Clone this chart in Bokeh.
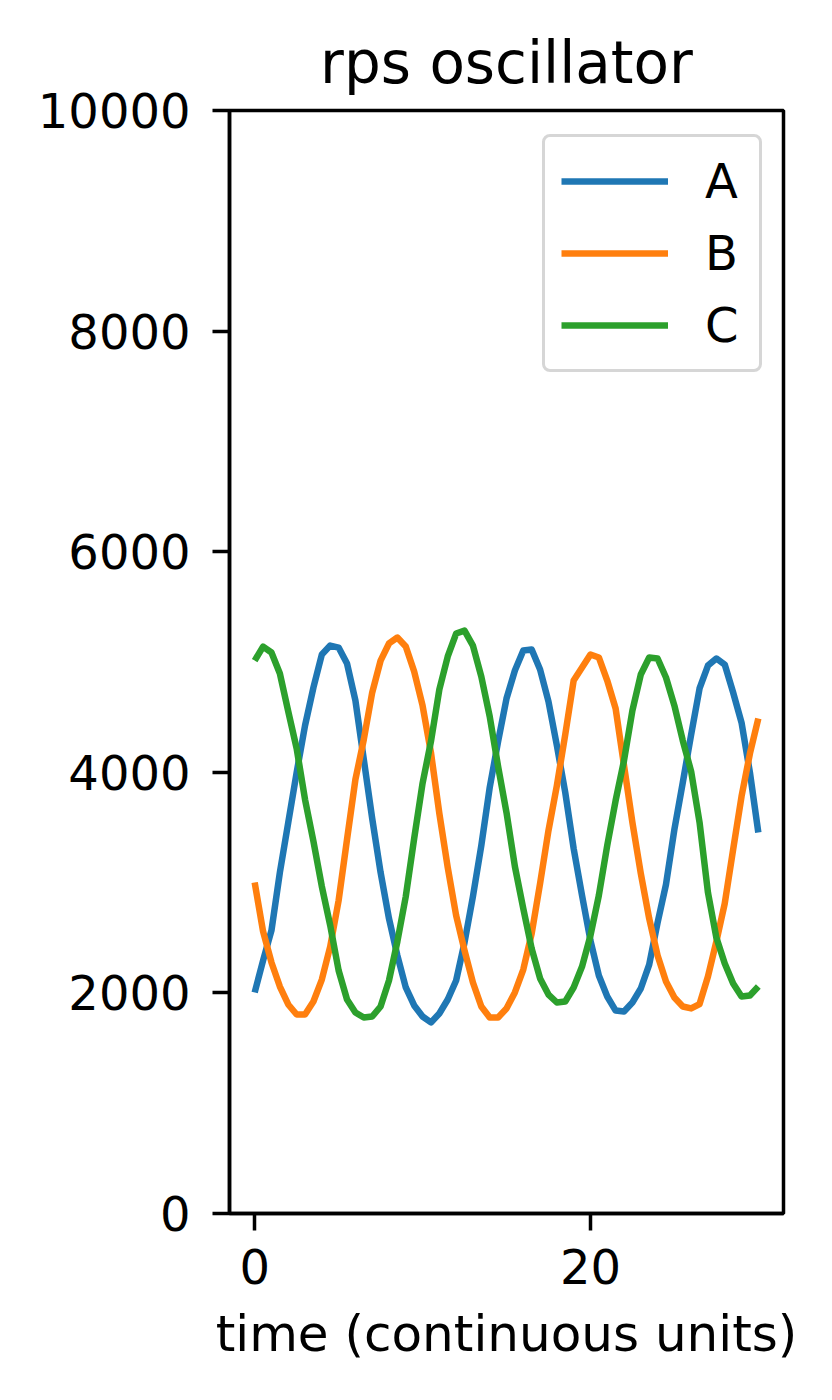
import numpy as np
from bokeh.plotting import figure
from bokeh.models import Range1d, FixedTicker, Legend
from bokeh.embed import file_html
from bokeh.resources import INLINE

# ---- data ----
time = [0.0, 0.5, 1.0, 1.5, 2.0, 2.5, 3.0, 3.5, 4.0, 4.5, 5.0, 5.5, 6.0, 6.5, 7.0, 7.5,
        8.0, 8.5, 9.0, 9.5, 10.0, 10.5, 11.0, 11.5, 12.0, 12.5, 13.0, 13.5, 14.0, 14.5,
        15.0, 15.5, 16.0, 16.5, 17.0, 17.5, 18.0, 18.5, 19.0, 19.5, 20.0, 20.5, 21.0,
        21.5, 22.0, 22.5, 23.0, 23.5, 24.0, 24.5, 25.0, 25.5, 26.0, 26.5, 27.0, 27.5,
        28.0, 28.5, 29.0, 29.5, 30.0]

A = [2004, 2294, 2566, 3092, 3545, 3998, 4424, 4769, 5068, 5149, 5131, 4986, 4651,
     4116, 3581, 3092, 2674, 2339, 2049, 1886, 1786, 1732, 1813, 1940, 2112, 2457,
     2874, 3336, 3862, 4279, 4669, 4923, 5104, 5113, 4932, 4642, 4243, 3817, 3309,
     2883, 2475, 2158, 1967, 1840, 1831, 1913, 2040, 2257, 2638, 2983, 3481, 3907,
     4343, 4760, 4968, 5032, 4977, 4723, 4451, 3998, 3454]

B = [3001, 2557, 2276, 2058, 1895, 1804, 1804, 1922, 2121, 2421, 2838, 3391, 3935,
     4297, 4723, 5013, 5168, 5222, 5140, 4914, 4605, 4179, 3626, 3137, 2702, 2384,
     2094, 1877, 1777, 1777, 1859, 2004, 2212, 2538, 2992, 3472, 3880, 4343, 4832,
     4950, 5068, 5041, 4832, 4578, 4062, 3545, 3082, 2674, 2339, 2103, 1958, 1877,
     1859, 1899, 2149, 2466, 2810, 3300, 3781, 4170, 4488]

C = [5013, 5140, 5086, 4896, 4551, 4216, 3753, 3373, 2965, 2611, 2203, 1940, 1822,
     1777, 1786, 1877, 2112, 2466, 2874, 3400, 3900, 4280, 4751, 5050, 5258, 5285,
     5149, 4868, 4506, 4053, 3635, 3146, 2765, 2402, 2131, 1985, 1913, 1922, 2049,
     2239, 2520, 2883, 3336, 3744, 4107, 4560, 4887, 5041, 5032, 4859, 4605, 4288,
     4007, 3545, 2910, 2502, 2267, 2085, 1967, 1976, 2058]

series_names = ["A", "B", "C"]
series_colors = ["#1f77b4", "#ff7f0e", "#2ca02c"]
x_ticks = [0, 20]
y_ticks = [0, 2000, 4000, 6000, 8000, 10000]
title_text = "rps oscillator"
x_label = "time (continuous units)"

FONT = "DejaVu Sans"

p = figure(width=824, height=1392, output_backend="svg", toolbar_location=None,
           x_range=Range1d(-1.5, 31.5), y_range=Range1d(0, 10000),
           min_border_left=229, min_border_right=41,
           min_border_top=110, min_border_bottom=179)

p.background_fill_color = "white"
p.border_fill_color = "white"
p.grid.visible = False
p.outline_line_color = "black"
p.outline_line_width = 3.5
p.outline_line_alpha = 1.0

p.title.text = title_text
p.title.align = "center"
p.title.text_font = FONT
p.title.text_font_size = "58px"
p.title.text_font_style = "normal"
p.title.text_color = "black"
p.title.standoff = 27

for ax in (p.xaxis[0], p.yaxis[0]):
    ax.axis_line_color = "black"
    ax.axis_line_width = 3.5
    ax.major_tick_in = 0
    ax.major_tick_out = 17
    ax.major_tick_line_width = 3.5
    ax.major_tick_line_color = "black"
    ax.minor_tick_line_color = None
    ax.major_label_text_font = FONT
    ax.major_label_text_font_size = "48px"
    ax.major_label_text_color = "black"

p.xaxis[0].ticker = FixedTicker(ticks=x_ticks)
p.yaxis[0].ticker = FixedTicker(ticks=y_ticks)
p.xaxis[0].major_label_standoff = 18
p.yaxis[0].major_label_standoff = 22
p.xaxis[0].axis_label = x_label
p.xaxis[0].axis_label_text_font = FONT
p.xaxis[0].axis_label_text_font_size = "50px"
p.xaxis[0].axis_label_text_font_style = "normal"
p.xaxis[0].axis_label_text_color = "black"
p.xaxis[0].axis_label_standoff = 18

for name, ys, col in zip(series_names, [A, B, C], series_colors):
    p.line(time, ys, line_color=col, line_width=6.5, line_join="round",
           legend_label=name)

leg = p.legend[0]
leg.location = (313, 841)
leg.label_text_font = FONT
leg.label_text_font_size = "48px"
leg.label_text_color = "black"
leg.glyph_width = 107
leg.glyph_height = 48
leg.label_height = 48
leg.label_width = 38
leg.label_standoff = 37
leg.padding = 16
leg.spacing = 16
leg.margin = 0
leg.border_line_color = "#d6d6d6"
leg.border_line_width = 3.5
leg.border_line_alpha = 1.0
leg.background_fill_color = "white"
leg.background_fill_alpha = 1.0
if "border_radius" in Legend.properties():
    leg.border_radius = 8

open("out.html", "w").write(file_html(p, INLINE))
